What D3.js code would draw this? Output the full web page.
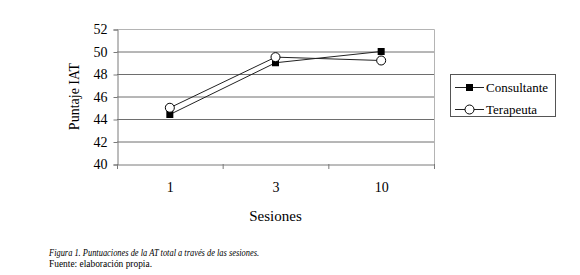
<!DOCTYPE html>
<html>
<head>
<meta charset="utf-8">
<script src="https://cdn.jsdelivr.net/npm/d3@7"></script>
<style>
  body { margin: 0; background: #fff; font-family: "Liberation Serif", serif; }
  #chart { position: absolute; left: 0; top: 0; }
  .caption { position: absolute; left: 49px; font-size: 10px; line-height: 10px;
             white-space: nowrap; transform-origin: 0 0; color: #000; }
  #cap1 { top: 248px; font-style: italic; }
  #cap2 { top: 259px; }
</style>
</head>
<body>
<div id="chart"></div>
<div class="caption" id="cap1">Figura 1. Puntuaciones de la AT total a través de las sesiones.</div>
<div class="caption" id="cap2">Fuente: elaboración propia.</div>
<script>
// Data
var sessions = ['1', '3', '10'];
var consultante = [44.4, 49.0, 50.0];
var terapeuta = [45.0, 49.5, 49.2];
var yTicks = [40, 42, 44, 46, 48, 50, 52];

var FONT = '"Liberation Serif", serif';

var width = 580, height = 275;
var margin = { left: 117, right: 146, top: 29, bottom: 111 };

var svg = d3.select('#chart')
  .append('svg')
  .attr('width', width)
  .attr('height', height)
  .attr('font-family', FONT);

var x = d3.scaleBand()
  .domain(sessions)
  .range([margin.left, width - margin.right]);

var y = d3.scaleLinear()
  .domain([40, 52])
  .range([height - margin.bottom, margin.top]);

// Grid lines
svg.append('g')
  .selectAll('line')
  .data(yTicks.slice(1, -1))
  .enter()
  .append('line')
  .attr('x1', margin.left)
  .attr('x2', width - margin.right)
  .attr('y1', function(d){ return y(d) + 0.5; })
  .attr('y2', function(d){ return y(d) + 0.5; })
  .attr('stroke', '#6e6e6e')
  .attr('stroke-width', 1);

// Plot border (top & right)
svg.append('path')
  .attr('d', 'M' + margin.left + ',' + (margin.top + 0.5)
    + 'H' + (width - margin.right + 0.5)
    + 'V' + (height - margin.bottom))
  .attr('fill', 'none')
  .attr('stroke', '#b4b4b4');

// Y axis
var yAxis = svg.append('g')
  .attr('transform', 'translate(' + (margin.left + 0.5) + ',0.5)')
  .call(d3.axisLeft(y).tickValues(yTicks).tickSize(4).tickPadding(6).tickFormat(d3.format('d')));
yAxis.attr('font-family', FONT).attr('font-size', 14);
yAxis.select('.domain').attr('stroke', '#7a7a7a');
yAxis.selectAll('.tick line').attr('stroke', '#7a7a7a');
yAxis.selectAll('text').attr('fill', '#000');

// X axis
var xAxis = svg.append('g')
  .attr('transform', 'translate(0.5,' + (height - margin.bottom + 0.5) + ')')
  .call(d3.axisBottom(x).tickSize(0).tickPadding(18));
xAxis.attr('font-family', FONT).attr('font-size', 14);
xAxis.select('.domain').attr('stroke', '#7a7a7a');
xAxis.selectAll('text').attr('fill', '#000');

// category separators
svg.append('g')
  .selectAll('line')
  .data(sessions.concat(['end']))
  .enter()
  .append('line')
  .attr('x1', function(d, i){ return (i < sessions.length ? x(d) : x.range()[1]) + 0.5; })
  .attr('x2', function(d, i){ return (i < sessions.length ? x(d) : x.range()[1]) + 0.5; })
  .attr('y1', height - margin.bottom)
  .attr('y2', height - margin.bottom + 5)
  .attr('stroke', '#7a7a7a');

// Axis titles
svg.append('text')
  .attr('transform', 'translate(79,' + ((margin.top + height - margin.bottom) / 2) + ') rotate(-90)')
  .attr('text-anchor', 'middle')
  .attr('font-size', 14)
  .text('Puntaje IAT');

svg.append('text')
  .attr('x', (margin.left + width - margin.right) / 2)
  .attr('y', 221)
  .attr('text-anchor', 'middle')
  .attr('font-size', 15)
  .text('Sesiones');

// Lines
var line = d3.line()
  .x(function(d, i){ return x(sessions[i]) + x.bandwidth() / 2; })
  .y(function(d){ return y(d); });

[consultante, terapeuta].forEach(function(series){
  svg.append('path')
    .datum(series)
    .attr('d', line)
    .attr('fill', 'none')
    .attr('stroke', '#222')
    .attr('stroke-width', 1);
});

// Markers
svg.append('g')
  .selectAll('rect')
  .data(consultante)
  .enter()
  .append('rect')
  .attr('x', function(d, i){ return x(sessions[i]) + x.bandwidth() / 2 - 3.5; })
  .attr('y', function(d){ return y(d) - 3.5; })
  .attr('width', 7)
  .attr('height', 7)
  .attr('fill', '#000');

svg.append('g')
  .selectAll('circle')
  .data(terapeuta)
  .enter()
  .append('circle')
  .attr('cx', function(d, i){ return x(sessions[i]) + x.bandwidth() / 2; })
  .attr('cy', function(d){ return y(d); })
  .attr('r', 4.5)
  .attr('fill', '#fff')
  .attr('stroke', '#000')
  .attr('stroke-width', 1);

// Legend
var legend = svg.append('g');
legend.append('rect')
  .attr('x', 450.5).attr('y', 74.5)
  .attr('width', 105).attr('height', 42)
  .attr('fill', '#fff')
  .attr('stroke', '#555');

var legendItems = [
  { name: 'Consultante', type: 'square' },
  { name: 'Terapeuta', type: 'circle' }
];
var li = legend.selectAll('.item')
  .data(legendItems)
  .enter()
  .append('g')
  .attr('transform', function(d, i){ return 'translate(0,' + (87 + i * 22) + ')'; });

li.append('line')
  .attr('x1', 455).attr('x2', 484)
  .attr('y1', 0.5).attr('y2', 0.5)
  .attr('stroke', '#222');
li.filter(function(d){ return d.type === 'square'; })
  .append('rect')
  .attr('x', 466).attr('y', -3).attr('width', 7).attr('height', 7)
  .attr('fill', '#000');
li.filter(function(d){ return d.type === 'circle'; })
  .append('circle')
  .attr('cx', 469.5).attr('cy', 0.5).attr('r', 4.5)
  .attr('fill', '#fff').attr('stroke', '#000');
li.append('text')
  .attr('x', 486)
  .attr('y', 5)
  .attr('font-size', 13)
  .text(function(d){ return d.name; });

// Caption: squeeze to the width of the original (narrower face there)
[['#cap1', 210], ['#cap2', 103]].forEach(function(c){
  var el = document.querySelector(c[0]);
  var w = el.getBoundingClientRect().width;
  if (w > 0) el.style.transform = 'scaleX(' + (c[1] / w) + ')';
});
</script>
</body>
</html>
